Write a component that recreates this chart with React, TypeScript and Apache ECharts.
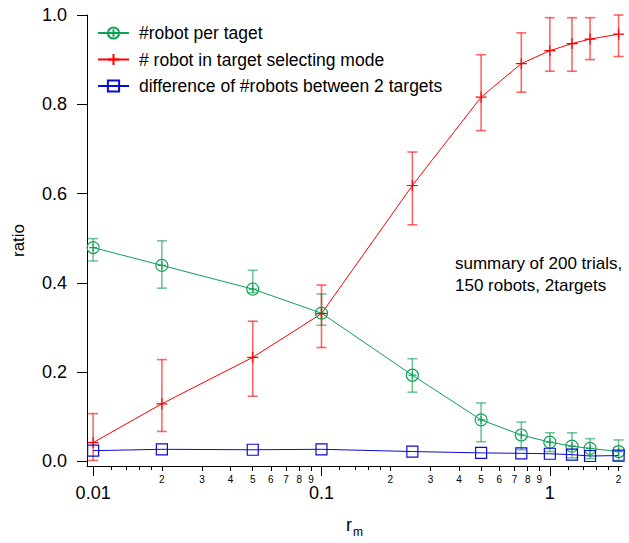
import React, { useEffect, useRef } from "react";
import * as echarts from "echarts";

// r_m values (log scale)
const rValues = [0.01, 0.02, 0.05, 0.1, 0.25, 0.5, 0.75, 1, 1.25, 1.5, 2];

// #robot per target
const perTarget = [0.479, 0.439, 0.386, 0.332, 0.193, 0.093, 0.059, 0.043, 0.034, 0.029, 0.022];
const perTargetLow = [0.449, 0.388, 0.378, 0.305, 0.155, 0.044, 0.026, 0.022, 0.008, 0.006, 0.002];
const perTargetHigh = [0.499, 0.494, 0.428, 0.375, 0.23, 0.131, 0.088, 0.064, 0.064, 0.051, 0.048];

// # robot in target selecting mode
const selecting = [0.042, 0.129, 0.233, 0.331, 0.618, 0.816, 0.891, 0.92, 0.936, 0.946, 0.957];
const selectingLow = [0.002, 0.067, 0.146, 0.255, 0.53, 0.741, 0.827, 0.874, 0.874, 0.9, 0.907];
const selectingHigh = [0.107, 0.228, 0.314, 0.395, 0.693, 0.911, 0.96, 0.994, 0.994, 0.994, 1.0];

// difference of #robots between 2 targets
const difference = [0.024, 0.027, 0.026, 0.027, 0.022, 0.019, 0.018, 0.017, 0.015, 0.012, 0.013];

// Axis ticks
const yTicks = [0, 0.2, 0.4, 0.6, 0.8, 1.0];
const xMajorTicks = [0.01, 0.1, 1];
const xMinorTicks = [
  0.02, 0.03, 0.04, 0.05, 0.06, 0.07, 0.08, 0.09,
  0.2, 0.3, 0.4, 0.5, 0.6, 0.7, 0.8, 0.9,
  2,
];
const xFineTicks = [0.012, 0.014, 0.016, 0.018, 0.12, 0.14, 0.16, 0.18, 1.2, 1.4, 1.6, 1.8];

const names = [
  "#robot per taget",
  "# robot in target selecting mode",
  "difference of #robots between 2 targets",
];
const noteLines = ["summary of 200 trials,", "150 robots, 2targets"];

const GREEN = "#12a055";
const RED = "#ff0000";
const BLUE = "#0a0ad2";
const FONT = "'Liberation Sans', Arial, Helvetica, sans-serif";

const X_MIN = 0.0094;
const X_MAX = 2.07;

const circlePlus = "path://M0,-6A6,6,0,1,1,0,6A6,6,0,1,1,0,-6ZM-4,0L4,0M0,-4L0,4";
const plusMark = "path://M-6,0L6,0M0,-6L0,6";
const squareMark = "path://M-6,-6L6,-6L6,6L-6,6Z";

function lineSeries(name: string, values: number[], color: string, symbol: string, size: number) {
  return {
    type: "line",
    name,
    xAxisIndex: 0,
    yAxisIndex: 0,
    data: rValues.map((r, i) => [r, values[i]]),
    symbol,
    symbolSize: size,
    showSymbol: true,
    lineStyle: { color, width: 1 },
    itemStyle: { color: "rgba(0,0,0,0)", borderColor: color, borderWidth: 1.2 },
    z: 3,
    clip: false,
  };
}

function errorSeries(name: string, low: number[], high: number[], color: string) {
  return {
    type: "custom",
    name,
    xAxisIndex: 0,
    yAxisIndex: 0,
    data: rValues.map((r, i) => [r, low[i], high[i]]),
    silent: true,
    clip: false,
    z: 2,
    renderItem: (_params: any, api: any) => {
      const x = api.value(0);
      const lo = api.coord([x, api.value(1)]);
      const hi = api.coord([x, api.value(2)]);
      const w = 5;
      const style = { stroke: color, lineWidth: 1.6, opacity: 0.6 };
      return {
        type: "group",
        children: [
          { type: "line", shape: { x1: lo[0], y1: lo[1], x2: hi[0], y2: hi[1] }, style },
          { type: "line", shape: { x1: lo[0] - w, y1: lo[1], x2: lo[0] + w, y2: lo[1] }, style },
          { type: "line", shape: { x1: hi[0] - w, y1: hi[1], x2: hi[0] + w, y2: hi[1] }, style },
        ],
      };
    },
  };
}

function tickAxis(values: number[], tickLen: number, showLabel: boolean, fontSize: number, margin: number, fmt: (v: number) => string) {
  return {
    type: "value",
    gridIndex: 0,
    position: "bottom",
    min: Math.log10(X_MIN),
    max: Math.log10(X_MAX),
    axisLine: { show: false, onZero: false },
    splitLine: { show: false },
    axisTick: {
      show: true,
      customValues: values.map((v) => Math.log10(v)),
      length: tickLen,
      lineStyle: { color: "#000", width: 1 },
    },
    axisLabel: {
      show: showLabel,
      customValues: values.map((v) => Math.log10(v)),
      fontSize,
      fontFamily: FONT,
      color: "#000",
      margin,
      formatter: (v: number) => fmt(v),
    },
  };
}

export default function App() {
  const ref = useRef<HTMLDivElement>(null);

  useEffect(() => {
    if (!ref.current) return;
    const chart = echarts.init(ref.current, undefined, { renderer: "svg" });
    chart.setOption({
      animation: false,
      backgroundColor: "#fff",
      grid: { left: 87, right: 7, top: 15, bottom: 70, containLabel: false },
      legend: {
        data: names,
        orient: "vertical",
        left: 97,
        top: 23,
        padding: 0,
        itemWidth: 31,
        itemHeight: 14,
        itemGap: 6.5,
        textStyle: {
          fontSize: 17.5,
          lineHeight: 20,
          color: "#000",
          fontFamily: FONT,
          padding: [0, 0, 0, 5],
        },
      },
      xAxis: [
        {
          type: "log",
          logBase: 10,
          gridIndex: 0,
          position: "bottom",
          min: X_MIN,
          max: X_MAX,
          axisLine: { show: true, onZero: false, lineStyle: { color: "#000", width: 1 } },
          axisTick: { show: false },
          axisLabel: { show: false },
          splitLine: { show: false },
          name: "{r|r}{m|m}",
          nameLocation: "middle",
          nameGap: 46,
          nameTextStyle: {
            rich: {
              r: { fontSize: 18, fontFamily: FONT, color: "#000" },
              m: { fontSize: 12, fontFamily: FONT, color: "#000", padding: [14, 0, 0, 1] },
            },
          },
        },
        tickAxis(xMajorTicks, 10, true, 18, 18, (v) => String(Number(Math.pow(10, v).toPrecision(1)))),
        tickAxis(xMinorTicks, 5, true, 10, 8, (v) => String(Math.round(Math.pow(10, v - Math.floor(v + 1e-9))))),
        tickAxis(xFineTicks, 4, false, 10, 8, () => ""),
      ],
      yAxis: {
        type: "value",
        min: -0.0104,
        max: 1,
        axisLine: { show: true, onZero: false, lineStyle: { color: "#000", width: 1 } },
        axisTick: {
          show: true,
          customValues: yTicks,
          length: 10,
          lineStyle: { color: "#000", width: 1 },
        },
        axisLabel: {
          customValues: yTicks,
          fontSize: 18,
          fontFamily: FONT,
          color: "#000",
          margin: 20,
          formatter: (v: number) => v.toFixed(1),
        },
        splitLine: { show: false },
        name: "ratio",
        nameLocation: "middle",
        nameRotate: 90,
        nameGap: 60,
        nameTextStyle: { fontSize: 17, fontFamily: FONT, color: "#000" },
      },
      series: [
        errorSeries("err-target", perTargetLow, perTargetHigh, GREEN),
        errorSeries("err-selecting", selectingLow, selectingHigh, RED),
        lineSeries(names[0], perTarget, GREEN, circlePlus, 12),
        lineSeries(names[1], selecting, RED, plusMark, 11),
        lineSeries(names[2], difference, BLUE, squareMark, 11),
      ],
      graphic: [
        {
          type: "text",
          left: 455,
          top: 252,
          style: {
            text: noteLines.join("\n"),
            fontSize: 17,
            fontFamily: FONT,
            fill: "#000",
            lineHeight: 22,
          },
        },
      ],
    });
    return () => chart.dispose();
  }, []);

  return (
    <div
      ref={ref}
      style={{ position: "fixed", left: 0, top: 0, width: 629, height: 543, background: "#fff" }}
    />
  );
}
